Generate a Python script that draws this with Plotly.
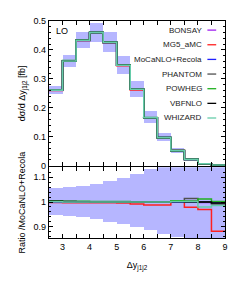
import plotly.graph_objects as go

# ---- data ----
bin_edges = [2.5, 3.0, 3.5, 4.0, 4.5, 5.0, 5.5, 6.0, 6.5, 7.0, 7.5, 8.0, 8.5, 9.0]
mocanlo = [0.261, 0.362, 0.433, 0.460, 0.426, 0.347, 0.264, 0.166, 0.097, 0.052, 0.022, 0.007, 0.002]
band_up = [0.055, 0.058, 0.064, 0.073, 0.082, 0.094, 0.110, 0.132, 0.160, 0.190, 0.250, 0.300, 0.400]
band_down = [0.054, 0.058, 0.063, 0.071, 0.080, 0.090, 0.100, 0.115, 0.130, 0.143, 0.180, 0.250, 0.350]

ratio_bonsay = [1.001, 1.001, 1.000, 1.000, 1.000, 1.000, 1.000, 1.000, 1.000, 1.002, 1.003, 0.998, 0.995]
ratio_mg5 = [0.998, 0.997, 0.997, 0.997, 0.997, 0.996, 0.992, 0.988, 0.988, 1.005, 0.979, 0.970, 0.882]
ratio_mocanlo = [1.0] * 13
ratio_phantom = [1.002, 1.001, 1.001, 1.000, 1.000, 1.000, 1.000, 1.000, 1.000, 1.003, 1.014, 1.000, 0.992]
ratio_powheg = [1.004, 1.003, 1.003, 1.002, 1.002, 1.002, 1.001, 1.001, 1.001, 1.005, 1.004, 1.012, 1.002]
ratio_vbfnlo = [1.003, 1.002, 1.001, 1.000, 1.000, 1.000, 1.000, 1.000, 1.000, 1.001, 1.000, 1.000, 0.996]
ratio_whizard = [1.001, 1.000, 1.000, 1.000, 1.000, 1.000, 1.000, 1.000, 1.000, 1.002, 1.002, 0.980, 0.986]

generators = ["BONSAY", "MG5_aMC", "MoCaNLO+Recola", "PHANTOM", "POWHEG", "VBFNLO", "WHIZARD"]
ratios = [ratio_bonsay, ratio_mg5, ratio_mocanlo, ratio_phantom, ratio_powheg, ratio_vbfnlo, ratio_whizard]
colors = ["#a020f0", "#ff2020", "#2020ff", "#505050", "#20b020", "#000000", "#66ccaa"]

FONT = "Liberation Sans, Arial, sans-serif"
band_color = "rgba(110,110,255,0.5)"

centers = [(a + b) / 2 for a, b in zip(bin_edges[:-1], bin_edges[1:])]
widths = [b - a for a, b in zip(bin_edges[:-1], bin_edges[1:])]

fig = go.Figure()

# uncertainty bands (top)
fig.add_trace(go.Bar(
    x=centers, width=widths,
    base=[v * (1 - d) for v, d in zip(mocanlo, band_down)],
    y=[v * (u + d) for v, u, d in zip(mocanlo, band_up, band_down)],
    marker=dict(color=band_color, line=dict(width=0)),
    xaxis="x", yaxis="y", showlegend=False, hoverinfo="skip"))
# uncertainty bands (ratio)
fig.add_trace(go.Bar(
    x=centers, width=widths,
    base=[1 - d for d in band_down],
    y=[u + d for u, d in zip(band_up, band_down)],
    marker=dict(color=band_color, line=dict(width=0)),
    xaxis="x2", yaxis="y2", showlegend=False, hoverinfo="skip"))

step_x = bin_edges
for name, r, c in zip(generators, ratios, colors):
    vals = [m * q for m, q in zip(mocanlo, r)]
    fig.add_trace(go.Scatter(
        x=step_x, y=vals + [vals[-1]], mode="lines", line=dict(color=c, width=1.6, shape="hv"),
        xaxis="x", yaxis="y", showlegend=False, name=name))
    fig.add_trace(go.Scatter(
        x=step_x, y=list(r) + [r[-1]], mode="lines", line=dict(color=c, width=1.5, shape="hv"),
        xaxis="x2", yaxis="y2", showlegend=False, name=name))

axis_common = dict(
    showline=True, linecolor="black", linewidth=1.2, mirror="ticks",
    ticks="inside", tickcolor="black", ticklen=4, showgrid=False, zeroline=False,
    tickfont=dict(family=FONT, size=9, color="black"))

fig.update_layout(
    width=240, height=281,
    margin=dict(l=41, r=23, t=8, b=51),
    paper_bgcolor="white", plot_bgcolor="white",
    barmode="overlay", bargap=0,
    font=dict(family=FONT, size=9, color="black"),
    xaxis=dict(domain=[0, 1], range=[2.5, 9], anchor="y", showticklabels=False,
               dtick=0.5, minor=dict(ticks=""), **axis_common),
    yaxis=dict(domain=[0.333, 1], range=[0, 0.5], anchor="x", dtick=0.1,
               minor=dict(dtick=0.02, ticks="inside", ticklen=2, tickcolor="black"),
               title=dict(text="dσ/d Δy<sub>j1j2</sub> [fb]", font=dict(family=FONT, size=9), standoff=6),
               **axis_common),
    xaxis2=dict(domain=[0, 1], range=[2.5, 9], anchor="y2", dtick=1, tick0=3,
                minor=dict(dtick=0.5, ticks="inside", ticklen=4, tickcolor="black"),
                title=dict(text="Δy<sub>j1j2</sub>", font=dict(family=FONT, size=9), standoff=10),
                **axis_common),
    yaxis2=dict(domain=[0, 0.326], range=[0.855, 1.14], anchor="x2", dtick=0.1,
                tickvals=[0.9, 1.0, 1.1], ticktext=["0.9", "1", "1.1"],
                minor=dict(dtick=0.02, ticks="inside", ticklen=2, tickcolor="black"),
                title=dict(text="Ratio /MoCaNLO+Recola", font=dict(family=FONT, size=9), standoff=6),
                **axis_common),
)

# "LO" label
fig.add_annotation(x=0.03, y=0.985, xref="paper", yref="paper", text="LO", showarrow=False,
                   xanchor="left", yanchor="top", font=dict(family=FONT, size=9, color="black"))

# legend (text to the left of a line sample)
leg_top = 0.958
leg_step = 0.0675
for i, (name, c) in enumerate(zip(generators, colors)):
    yy = leg_top - i * leg_step
    fig.add_annotation(x=0.88, y=yy, xref="paper", yref="paper", text=name, showarrow=False,
                       xanchor="right", yanchor="middle", font=dict(family=FONT, size=8, color="#222"))
    fig.add_shape(type="line", xref="paper", yref="paper", x0=0.9, x1=0.95, y0=yy, y1=yy,
                  line=dict(color=c, width=1.3))

fig.write_html("out.html")
